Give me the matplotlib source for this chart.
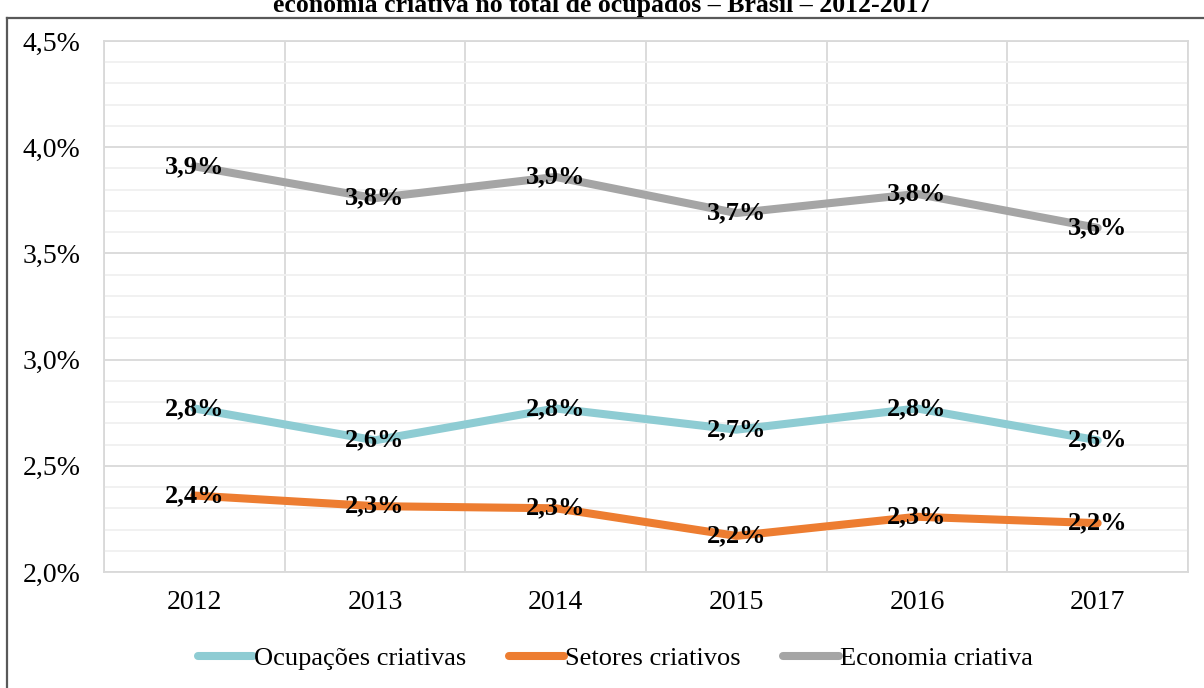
import numpy as np
import matplotlib.pyplot as plt
from matplotlib.ticker import MultipleLocator, FuncFormatter
from matplotlib.lines import Line2D

plt.rcParams['font.family'] = ['Liberation Serif', 'DejaVu Serif']

anos = ['2012', '2013', '2014', '2015', '2016', '2017']
ocupacoes = [2.77, 2.62, 2.77, 2.67, 2.77, 2.62]
setores = [2.36, 2.31, 2.30, 2.17, 2.26, 2.23]
economia = [3.91, 3.76, 3.86, 3.69, 3.78, 3.62]

series = [
    ('Ocupações criativas', ocupacoes, '#8ECCD3'),
    ('Setores criativos', setores, '#ED7D31'),
    ('Economia criativa', economia, '#A5A5A5'),
]

fig = plt.figure(figsize=(12.04, 6.88), dpi=100)
ax = fig.add_axes([104 / 1204, 116 / 688, 1084 / 1204, 531 / 688])

x = np.arange(len(anos))
for nome, vals, cor in series:
    ax.plot(x, vals, color=cor, lw=5.8, solid_capstyle='round',
            solid_joinstyle='round', label=nome, zorder=3)
    for xi, v in zip(x, vals):
        ax.text(xi, v, ('%.1f%%' % v).replace('.', ','), ha='center', va='center',
                fontsize=19, fontweight='bold', color='black', zorder=4)

ax.set_xlim(-0.5, len(anos) - 0.5)
ax.set_ylim(2.0, 4.5)
ax.set_xticks(x)
ax.set_xticklabels(anos)
ax.set_xticks(np.arange(-0.5, len(anos)), minor=True)
ax.yaxis.set_major_locator(MultipleLocator(0.5))
ax.yaxis.set_minor_locator(MultipleLocator(0.1))
ax.yaxis.set_major_formatter(FuncFormatter(lambda v, p: ('%.1f%%' % v).replace('.', ',')))

ax.grid(which='major', axis='y', color='#D9D9D9', lw=1.3, zorder=1)
ax.grid(which='minor', axis='y', color='#F0F0F0', lw=1.3, zorder=0)
ax.grid(which='minor', axis='x', color='#D9D9D9', lw=1.3, zorder=1)
ax.set_axisbelow(True)
ax.tick_params(which='both', length=0)
ax.tick_params(axis='y', labelsize=20, pad=17)
ax.tick_params(axis='x', labelsize=20, pad=13)
for s in ax.spines.values():
    s.set_color('#D9D9D9')
    s.set_linewidth(1.3)

handles = [Line2D([], [], color=c, lw=5.8, solid_capstyle='round') for _, _, c in series]
fig.legend(handles, [n for n, _, _ in series], loc='center', bbox_to_anchor=(0.511, 0.043),
           ncol=3, frameon=False, fontsize=19, handlelength=2.1, handletextpad=0.05,
           columnspacing=1.6)

# moldura do gráfico e título
fig.add_artist(Line2D([7 / 1204, 7 / 1204], [0, 1 - 18 / 688], transform=fig.transFigure,
                      color='#595959', lw=1.6))
fig.add_artist(Line2D([7 / 1204, 1], [1 - 18 / 688, 1 - 18 / 688], transform=fig.transFigure,
                      color='#595959', lw=1.6))
fig.text(0.5, 1 - 12 / 688, 'economia criativa no total de ocupados – Brasil – 2012-2017',
         ha='center', va='baseline', fontsize=18.5, fontweight='bold')

fig.savefig('out.png', dpi=100)
